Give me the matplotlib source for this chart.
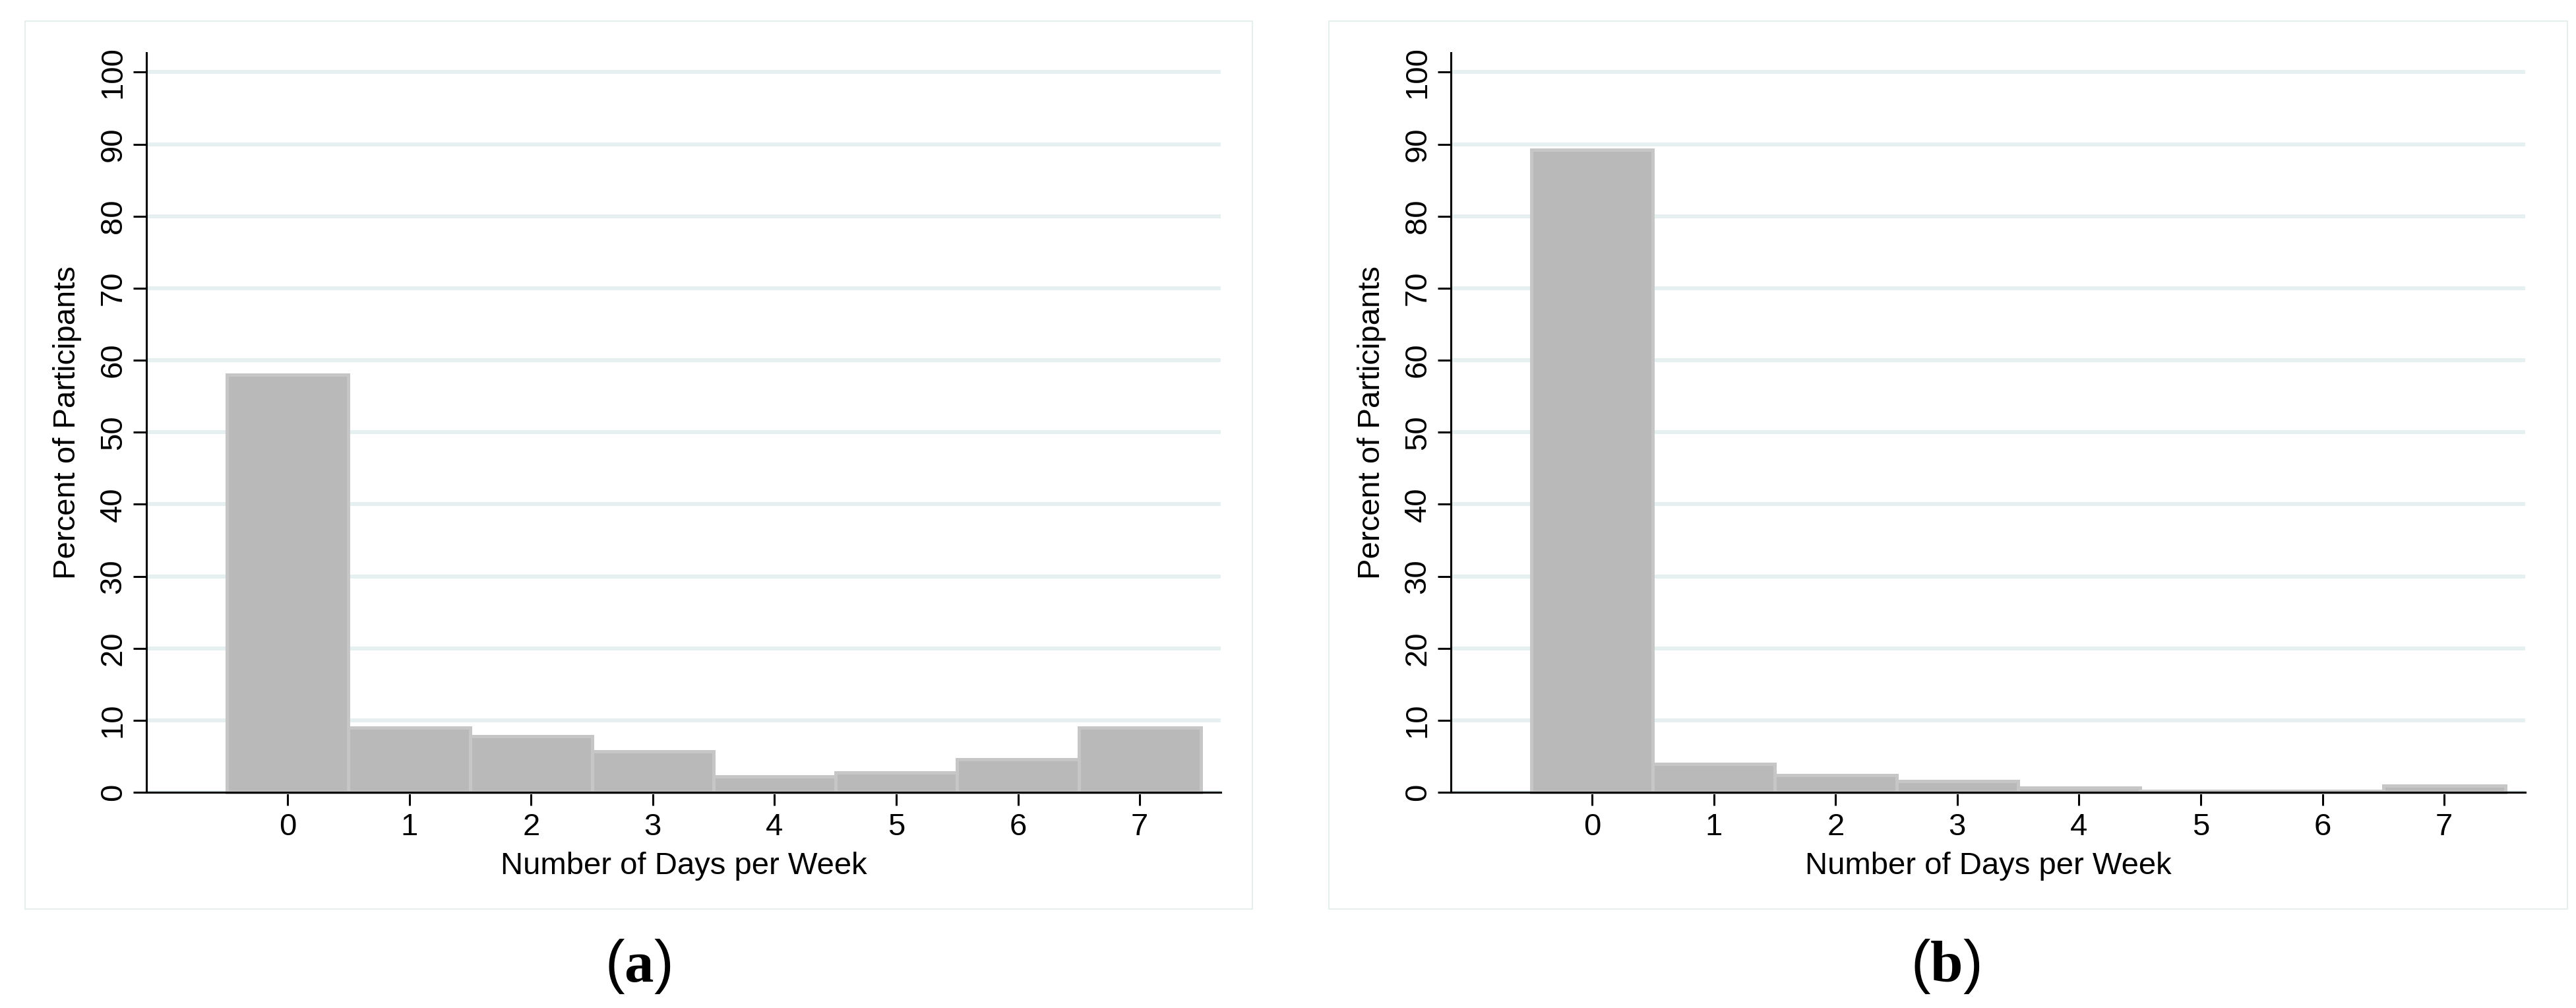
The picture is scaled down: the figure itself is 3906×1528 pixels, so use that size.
"""
Histograms: number of days per week, percent of participants (panels a and b)
"""

import matplotlib
matplotlib.use("Agg")
import matplotlib.pyplot as plt
from matplotlib.patches import Rectangle

# data
days = [0, 1, 2, 3, 4, 5, 6, 7]
pct_a = [58.0, 8.95, 7.8, 5.65, 2.2, 2.75, 4.6, 9.0]
pct_b = [89.2, 3.95, 2.4, 1.6, 0.65, 0.22, 0.22, 0.95]
y_ticks = list(range(0, 101, 10))
x_label = "Number of Days per Week"
y_label = "Percent of Participants"
panel_tags = ["a", "b"]

plt.rcParams['font.family'] = ['Liberation Sans', 'DejaVu Sans']
plt.rcParams['mathtext.fontset'] = 'custom'
plt.rcParams['mathtext.rm'] = 'Liberation Serif'
plt.rcParams['mathtext.bf'] = 'Liberation Serif:bold'

W, H = 3906, 1528
fig = plt.figure(figsize=(W / 100, H / 100), dpi=100)


def px(x0, y0, x1, y1):
    """pixel box (top-left origin) -> figure fraction rect"""
    return [x0 / W, 1 - y1 / H, (x1 - x0) / W, (y1 - y0) / H]


def draw_panel(ax, values):
    ax.bar(days, values, width=1.0, color='#b9b9b9', edgecolor='#c6c6c6',
           linewidth=3.6, zorder=2, clip_on=False)
    ax.set_xlim(-1.16, 7.665)
    ax.set_ylim(0, 102.7)
    ax.set_xticks(days)
    ax.set_yticks(y_ticks)
    ax.set_yticklabels([str(t) for t in y_ticks], rotation=90, va='center')
    ax.yaxis.grid(True, color='#e6f0f0', linewidth=4.3, zorder=0)
    ax.set_axisbelow(True)
    for s in ['top', 'right']:
        ax.spines[s].set_visible(False)
    for s in ['left', 'bottom']:
        ax.spines[s].set_linewidth(2.2)
        ax.spines[s].set_zorder(3)
    ax.tick_params(axis='both', length=14.4, width=2.2, labelsize=34, color='black')
    ax.tick_params(axis='x', pad=8)
    ax.tick_params(axis='y', pad=6)
    ax.set_xlabel(x_label, fontsize=34)
    ax.xaxis.set_label_coords(0.5, -0.0999)
    ax.xaxis.label.set_va('center')
    ax.set_ylabel(y_label, fontsize=34)
    ax.yaxis.set_label_coords(-0.0737, 0.5)
    ax.yaxis.label.set_va('center')


# light frames around each graph region
for x0, x1 in [(38, 1899), (2015, 3893)]:
    r = px(x0, 32, x1, 1378)
    fig.patches.append(Rectangle((r[0], r[1]), r[2], r[3], transform=fig.transFigure,
                                 fill=False, edgecolor='#e6eeee', linewidth=1.5))

ax_a = fig.add_axes(px(222, 80, 1851, 1201))
ax_b = fig.add_axes(px(2200, 80, 3829, 1201))
draw_panel(ax_a, pct_a)
draw_panel(ax_b, pct_b)

for cx, tag in zip([967, 2950], panel_tags):
    fig.text(cx / W, 1 - 1488 / H, r"$\mathregular{(}\mathbf{" + tag + r"}\mathregular{)}$",
             fontsize=64, ha='center', va='baseline')

fig.savefig("out.png", dpi=100)
